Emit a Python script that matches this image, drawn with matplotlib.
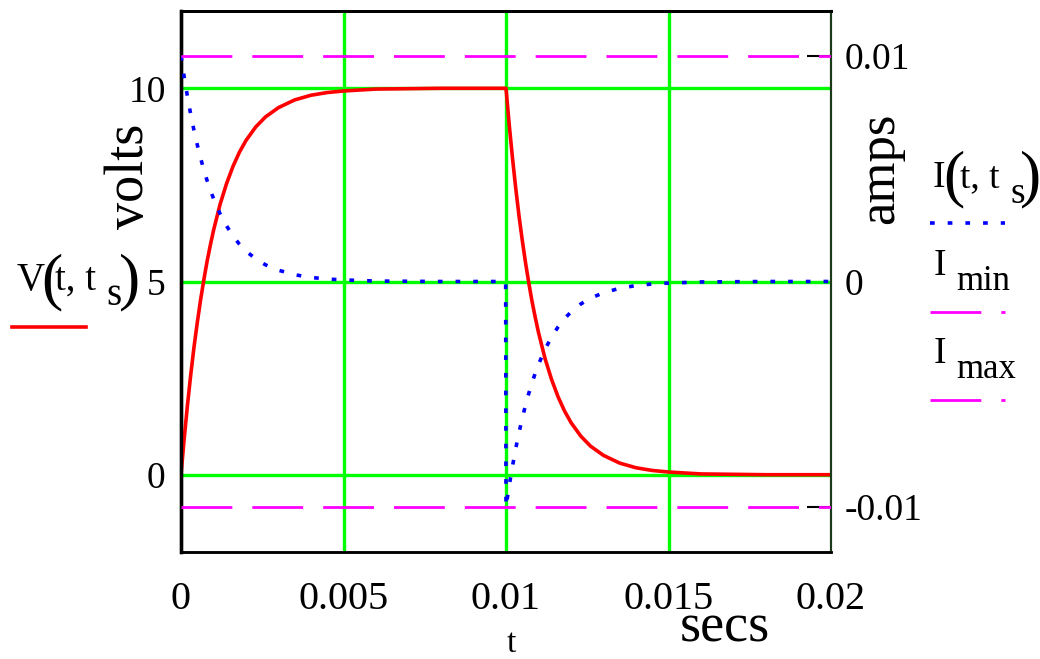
import matplotlib
matplotlib.use("Agg")
import matplotlib.pyplot as plt
from matplotlib.lines import Line2D

plt.rcParams['font.family'] = ['Liberation Serif', 'DejaVu Serif']

# ---------------- data ----------------
# time samples for the charging half (s)
time_charge = [0, 0.0001, 0.0002, 0.0003, 0.0004, 0.0005, 0.0006, 0.0007, 0.0008,
               0.0009, 0.001, 0.0012, 0.0014, 0.0016, 0.0018, 0.002, 0.0023, 0.0026,
               0.003, 0.0035, 0.004, 0.0045, 0.005, 0.006, 0.007, 0.008, 0.009, 0.00999]
# time samples for the discharging half (s)
time_discharge = [0.01, 0.0101, 0.0102, 0.0103, 0.0104, 0.0105, 0.0106, 0.0107, 0.0108,
                  0.0109, 0.011, 0.0112, 0.0114, 0.0116, 0.0118, 0.012, 0.0123, 0.0126,
                  0.013, 0.0135, 0.014, 0.0145, 0.015, 0.016, 0.017, 0.018, 0.019, 0.02]
# capacitor voltage V(t, ts) (volts)
volts_charge = [0, 0.95, 1.81, 2.59, 3.30, 3.93, 4.51, 5.03, 5.51, 5.93, 6.32, 6.99,
                7.53, 7.98, 8.35, 8.65, 9.00, 9.26, 9.50, 9.70, 9.82, 9.89, 9.93, 9.98,
                9.99, 10.0, 10.0, 10.0]
volts_discharge = [10.0, 9.05, 8.19, 7.41, 6.70, 6.07, 5.49, 4.97, 4.49, 4.07, 3.68, 3.01,
                   2.47, 2.02, 1.65, 1.35, 1.00, 0.74, 0.50, 0.30, 0.18, 0.11, 0.07, 0.02,
                   0.01, 0.0, 0.0, 0.0]
# current I(t, ts) (amps)
amps_charge = [0.0100, 0.00905, 0.00819, 0.00741, 0.00670, 0.00607, 0.00549, 0.00497,
               0.00449, 0.00407, 0.00368, 0.00301, 0.00247, 0.00202, 0.00165, 0.00135,
               0.00100, 0.00074, 0.00050, 0.00030, 0.00018, 0.00011, 0.00007, 0.00002,
               0.00001, 0.0, 0.0, 0.0]
amps_discharge = [-0.0100, -0.00905, -0.00819, -0.00741, -0.00670, -0.00607, -0.00549,
                  -0.00497, -0.00449, -0.00407, -0.00368, -0.00301, -0.00247, -0.00202,
                  -0.00165, -0.00135, -0.00100, -0.00074, -0.00050, -0.00030, -0.00018,
                  -0.00011, -0.00007, -0.00002, -0.00001, 0.0, 0.0, 0.0]
I_min = -0.01
I_max = 0.01

x_ticks = [0, 0.005, 0.01, 0.015, 0.02]
x_ticklabels = ['0', '0.005', '0.01', '0.015', '0.02']
v_ticks = [0, 5, 10]
v_ticklabels = ['0', '5', '10']
i_ticks = [-0.01, 0, 0.01]
i_ticklabels = ['-0.01', '0', '0.01']
x_range = (0, 0.02)
v_range = (-2, 12)
i_range = (-0.012, 0.012)

# ---------------- figure ----------------
W, H = 1040, 659
fig = plt.figure(figsize=(W / 100, H / 100), dpi=100)


def fx(x):
    return x / W


def fy(y):
    return 1 - y / H


ax = fig.add_axes([fx(181), fy(552), 650 / W, 541 / H])
ax2 = ax.twinx()

GREEN = '#00ff00'
RED = '#ff0000'
BLUE = '#0000ff'
MAGENTA = '#ff00ff'

# grid lines (green) at tick positions inside the frame
for xv in x_ticks[1:-1]:
    ax.axvline(xv, color=GREEN, lw=2.4, zorder=1)
for yv in v_ticks:
    ax.axhline(yv, color=GREEN, lw=2.4, zorder=1)

# voltage curve
ax.plot(time_charge + time_discharge, volts_charge + volts_discharge,
        color=RED, lw=2.6, zorder=3)

# current curve (dotted)
blue_style = (0, (1.3, 3.6))
ax2.plot(time_charge + time_discharge, amps_charge + amps_discharge,
         color=BLUE, lw=2.6, linestyle=blue_style, zorder=3)

# limit lines
mag_style = (0, (18.3, 7.2))
ax2.plot(x_range, [I_max, I_max], color=MAGENTA, lw=2.0, linestyle=mag_style, zorder=3)
ax2.plot(x_range, [I_min, I_min], color=MAGENTA, lw=2.0, linestyle=mag_style, zorder=3)

ax.set_xlim(*x_range)
ax.set_ylim(*v_range)
ax2.set_ylim(*i_range)

ax.set_xticks(x_ticks)
ax.set_xticklabels(x_ticklabels)
ax.set_yticks(v_ticks)
ax.set_yticklabels(v_ticklabels)
ax2.set_yticks(i_ticks)
ax2.set_yticklabels(i_ticklabels)

ax.tick_params(axis='x', length=0, pad=21, labelsize=29)
ax.tick_params(axis='y', length=0, pad=11, labelsize=27)
ax2.tick_params(axis='y', direction='in', length=17, width=1.5, color='black',
                pad=10, labelsize=27)
ax2.yaxis.get_major_ticks()[1].tick2line.set_visible(False)

for a in (ax, ax2):
    a.spines['left'].set_linewidth(2.4)
    a.spines['bottom'].set_linewidth(1.8)
    a.spines['top'].set_linewidth(2.0)
    a.spines['right'].set_linewidth(1.5)
    a.spines['right'].set_color('#1a3a1a')
    a.patch.set_visible(False)

# axis unit labels
fig.text(fx(130), fy(176), 'volts', rotation=90, fontsize=39, ha='center', va='center')
fig.text(fx(880), fy(168), 'amps', rotation=90, fontsize=38, ha='center', va='center')
fig.text(fx(725), fy(642), 'secs', fontsize=39, ha='center', va='baseline')
fig.text(fx(511), fy(652), 't', fontsize=24, ha='center', va='baseline')


# ---------------- legend entries ----------------
def label_fn(x, y, name, size=28):
    # name(t, t_s) with large parentheses, x/y = left/baseline in px
    fig.text(fx(x), fy(y), name, fontsize=size, va='baseline', ha='left')
    fig.text(fx(x + 24), fy(y + 7), '(', fontsize=46, va='baseline', ha='left')
    fig.text(fx(x + 38), fy(y), 't, t', fontsize=size, va='baseline', ha='left')
    fig.text(fx(x + 89), fy(y + 15), 's', fontsize=size, va='baseline', ha='left')
    fig.text(fx(x + 102), fy(y + 7), ')', fontsize=46, va='baseline', ha='left')


label_fn(17, 290, 'V')
fig.add_artist(Line2D([fx(12), fx(86)], [fy(327), fy(327)], color=RED, lw=2.6))

# I(t, ts)
fig.text(fx(933), fy(187), 'I', fontsize=27, va='baseline', ha='left')
fig.text(fx(943), fy(194), '(', fontsize=46, va='baseline', ha='left')
fig.text(fx(960), fy(187), 't, t', fontsize=27, va='baseline', ha='left')
fig.text(fx(1010), fy(203), 's', fontsize=27, va='baseline', ha='left')
fig.text(fx(1020), fy(194), ')', fontsize=46, va='baseline', ha='left')
fig.add_artist(Line2D([fx(930), fx(1005)], [fy(223), fy(223)], color=BLUE, lw=2.6,
                      linestyle=blue_style))

# I min
fig.text(fx(934), fy(275), 'I', fontsize=27, va='baseline', ha='left')
fig.text(fx(956), fy(290), 'min', fontsize=25, va='baseline', ha='left')
fig.add_artist(Line2D([fx(930), fx(1005)], [fy(312), fy(312)], color=MAGENTA, lw=2.0,
                      linestyle=mag_style))

# I max
fig.text(fx(934), fy(363), 'I', fontsize=27, va='baseline', ha='left')
fig.text(fx(956), fy(378), 'max', fontsize=25, va='baseline', ha='left')
fig.add_artist(Line2D([fx(930), fx(1005)], [fy(400), fy(400)], color=MAGENTA, lw=2.0,
                      linestyle=mag_style))

fig.savefig('out.png', dpi=100)
